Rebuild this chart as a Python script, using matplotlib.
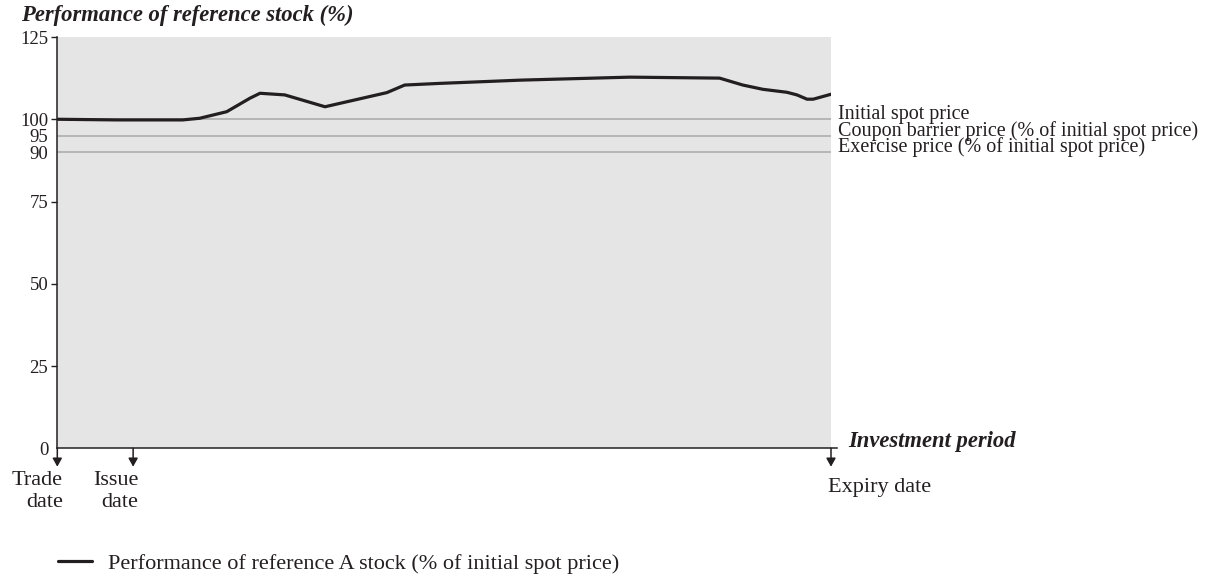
import matplotlib
matplotlib.use("Agg")
import matplotlib.pyplot as plt
from matplotlib.lines import Line2D

plt.rcParams['font.family'] = ['Liberation Serif', 'DejaVu Serif']

# ---- data ----
period = [0, 7.7, 16.2, 18.4, 21.9, 24.9, 26.2, 29.4, 34.6, 42.6, 44.9, 49.4,
          60, 74.0, 85.6, 88.6, 91.2, 94.3, 95.6, 96.9, 97.7, 100]
performance = [100.0, 99.8, 99.8, 100.3, 102.3, 106.4, 107.9, 107.4, 103.8, 108.1, 110.4, 110.9,
               111.9, 112.8, 112.5, 110.4, 109.1, 108.2, 107.4, 106.1, 106.1, 107.6]
levels = [100, 95, 90]
level_labels = ["Initial spot price",
                "Coupon barrier price (% of initial spot price)",
                "Exercise price (% of initial spot price)"]
yticks = [0, 25, 50, 75, 90, 95, 100, 125]
date_positions = [0, 9.8, 100]
date_labels = ["Trade\ndate", "Issue\ndate", "Expiry date"]

INK = '#231f20'
BG = '#e5e5e5'
REF = '#a8a8a8'
PX = 0.72  # points per pixel at 100 dpi

fig = plt.figure(figsize=(12.14, 5.85), dpi=100)
ax = fig.add_axes([57.3/1214, (585-448.3)/585, (831-57.3)/1214, (448.3-37)/585])
ax.set_facecolor(BG)
ax.set_xlim(0, 100)
ax.set_ylim(0, 125)

for lv, lab in zip(levels, level_labels):
    ax.axhline(lv, color=REF, lw=1.1, zorder=1)
    ax.annotate(lab, xy=(100, lv), xytext=(7*PX, 0), textcoords='offset points',
                va='baseline', ha='left', fontsize=14.5, color=INK, annotation_clip=False)

line, = ax.plot(period, performance, color=INK, lw=2.3, solid_joinstyle='round',
                solid_capstyle='round', zorder=3)

# spines
for s in ['top', 'right', 'bottom']:
    ax.spines[s].set_visible(False)
ax.spines['left'].set_color(INK)
ax.spines['left'].set_linewidth(1.1)
ax.add_line(Line2D([0, 100.8], [0, 0], color=INK, lw=1.1, clip_on=False, zorder=4))

ax.set_xticks([])
ax.set_yticks(yticks)
ax.set_yticklabels([str(t) for t in yticks], fontsize=13.5, color=INK)
ax.tick_params(axis='y', length=4, width=1.0, color=INK, pad=2.5)
for t, tk in zip(yticks, ax.yaxis.get_major_ticks()):
    if t in (0, 90, 95):
        tk.tick1line.set_visible(False)

# date arrows
for xp, lab in zip(date_positions, date_labels):
    ax.annotate('', xy=(xp, -5.6), xytext=(xp, 0), annotation_clip=False,
                arrowprops=dict(arrowstyle='-|>,head_length=0.5,head_width=0.28',
                                color=INK, lw=1.1, shrinkA=0, shrinkB=0))
    if '\n' in lab:
        ax.annotate(lab, xy=(xp, 0), xytext=(5.4*PX, -58.7*PX), textcoords='offset points',
                    ha='right', va='baseline', fontsize=16, color=INK,
                    multialignment='right', linespacing=1.22, annotation_clip=False)
    else:
        ax.annotate(lab, xy=(xp, 0), xytext=(-2.7*PX, -43.4*PX), textcoords='offset points',
                    ha='left', va='baseline', fontsize=16, color=INK, annotation_clip=False)

ax.annotate('Investment period', xy=(100, 0), xytext=(17.3*PX, 1*PX), textcoords='offset points',
            ha='left', va='baseline', fontsize=16.3, fontweight='bold', fontstyle='italic',
            color=INK, annotation_clip=False)

fig.text(21/1214, 1-21.5/585, 'Performance of reference stock (%)', fontsize=16.3,
         fontweight='bold', fontstyle='italic', color=INK, ha='left', va='baseline')

fig.legend(handles=[line], labels=['Performance of reference A stock (% of initial spot price)'],
           loc='center left', bbox_to_anchor=(58.3/1214, 1-563.3/585), frameon=False,
           borderpad=0, borderaxespad=0, handlelength=1.5, handletextpad=0.75,
           prop={'size': 16}, labelcolor=INK)

fig.savefig('out.png', dpi=100)
